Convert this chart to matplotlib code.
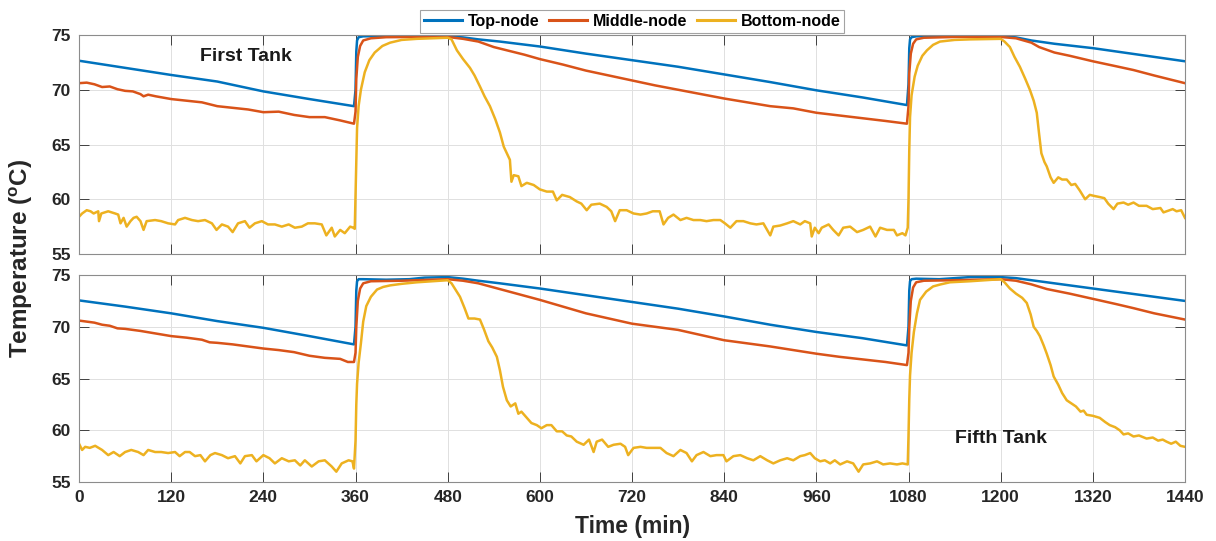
import matplotlib
matplotlib.use("Agg")
import matplotlib.pyplot as plt

plt.rcParams['font.family'] = ['Liberation Sans', 'DejaVu Sans']
plt.rcParams['font.weight'] = 'bold'
plt.rcParams['mathtext.fontset'] = 'custom'
plt.rcParams['mathtext.rm'] = 'Liberation Sans:bold'
plt.rcParams['mathtext.bf'] = 'Liberation Sans:bold'
plt.rcParams['mathtext.it'] = 'Liberation Sans:bold'

# ---------------- data ----------------
series_names = ['Top-node', 'Middle-node', 'Bottom-node']
colors = ['#0072BD', '#D95319', '#EDB120']
x_ticks = [0, 120, 240, 360, 480, 600, 720, 840, 960, 1080, 1200, 1320, 1440]
y_ticks = [55, 60, 65, 70, 75]

# First tank
top1_t = [0, 60, 120, 180, 240, 300, 358, 360, 361, 362, 364, 370, 400, 440, 480, 500, 520, 548, 600, 660,
          720, 780, 840, 900, 960, 1020, 1078, 1080, 1081, 1082, 1084, 1090, 1120, 1160, 1200, 1220, 1240,
          1270, 1320, 1380, 1440]
top1_v = [72.65, 72.0, 71.35, 70.75, 69.85, 69.15, 68.5, 70.0, 73.5, 74.5, 74.8, 74.88, 74.9, 74.9, 74.88, 74.78,
          74.6, 74.4, 73.95, 73.3, 72.7, 72.1, 71.4, 70.7, 69.95, 69.3, 68.6, 70.5, 73.8, 74.6, 74.8, 74.88, 74.9,
          74.9, 74.9, 74.78, 74.5, 74.2, 73.8, 73.2, 72.6]

mid1_t = [0, 10, 20, 30, 40, 50, 60, 70, 80, 84, 90, 100, 120, 140, 160, 180, 200, 220, 240, 260, 280, 300,
          320, 340, 355, 358, 360, 361, 363, 366, 370, 380, 400, 440, 480, 500, 520, 540, 560, 580, 600, 630,
          660, 690, 720, 750, 780, 810, 840, 870, 900, 930, 960, 990, 1020, 1050, 1078, 1080, 1081, 1083,
          1086, 1090, 1100, 1140, 1200, 1220, 1240, 1250, 1270, 1290, 1320, 1350, 1373, 1400, 1420, 1440]
mid1_v = [70.6, 70.65, 70.5, 70.25, 70.3, 70.05, 69.9, 69.85, 69.6, 69.4, 69.55, 69.4, 69.15, 69.0, 68.85,
          68.5, 68.35, 68.2, 67.95, 68.0, 67.7, 67.5, 67.5, 67.2, 66.95, 66.9, 68.0, 71.0, 73.0, 74.0, 74.5,
          74.7, 74.8, 74.82, 74.82, 74.65, 74.4, 73.9, 73.55, 73.2, 72.8, 72.3, 71.75, 71.3, 70.85, 70.4, 70.0,
          69.6, 69.2, 68.85, 68.5, 68.3, 67.9, 67.65, 67.4, 67.15, 66.9, 68.5, 71.5, 73.3, 74.2, 74.6, 74.75,
          74.82, 74.82, 74.7, 74.3, 73.9, 73.4, 73.1, 72.6, 72.15, 71.8, 71.3, 70.95, 70.6]

bot1_t = [0, 4, 10, 15, 19, 25, 26, 29, 38, 47, 51, 54, 58, 62, 67, 71, 75, 80, 84, 88, 99, 107, 116, 125,
          129, 138, 147, 155, 164, 173, 179, 186, 194, 200, 207, 216, 222, 229, 238, 246, 255, 264, 273, 281,
          290, 298, 307, 316, 322, 329, 333, 340, 346, 353, 357, 359,
          360, 361, 362, 364, 367, 372, 378, 385, 395, 405, 420, 440, 460, 480,
          485, 492, 500, 509, 515, 522, 528, 535, 542, 548, 553, 557, 561, 563, 566, 572, 576, 583, 592, 600,
          609, 617, 622, 629, 639, 648, 654, 661, 667, 678, 687, 693, 698, 704, 713, 722, 731, 739, 747, 756,
          761, 767, 774, 783, 791, 800, 809, 817, 826, 835, 841, 848, 856, 865, 874, 882, 891, 900, 904, 913,
          922, 930, 939, 945, 952, 954, 958, 963, 967, 976, 982, 989, 995, 1004, 1013, 1021, 1030, 1037, 1043,
          1052, 1061, 1065, 1072, 1076, 1079,
          1080, 1081, 1082, 1084, 1088, 1092, 1098, 1104, 1112, 1121, 1140, 1160, 1200,
          1205, 1212, 1218, 1225, 1232, 1238, 1243, 1247, 1250, 1253, 1257, 1260, 1265, 1269, 1275, 1280,
          1286, 1292, 1297, 1303, 1310, 1316, 1322, 1329, 1335, 1340, 1347, 1352, 1360, 1366, 1373, 1380,
          1390, 1398, 1408, 1412, 1416, 1424, 1429, 1435, 1440]
bot1_v = [58.4, 58.7, 59.0, 58.9, 58.7, 58.9, 58.0, 58.7, 58.9, 58.7, 58.6, 57.8, 58.3, 57.5, 58.0, 58.3,
          58.4, 58.0, 57.2, 58.0, 58.1, 58.0, 57.8, 57.7, 58.1, 58.3, 58.1, 58.0, 58.1, 57.8, 57.2, 57.7, 57.5,
          57.0, 57.8, 58.0, 57.4, 57.8, 58.0, 57.7, 57.7, 57.5, 57.7, 57.4, 57.5, 57.8, 57.8, 57.7, 56.7, 57.4,
          56.6, 57.2, 56.9, 57.5, 57.4, 57.3,
          60.5, 64.0, 66.5, 68.5, 70.0, 71.6, 72.7, 73.4, 74.0, 74.3, 74.55, 74.65, 74.7, 74.75,
          74.6, 73.6, 72.8, 72.0, 71.3, 70.3, 69.4, 68.5, 67.3, 66.1, 64.8, 64.2, 63.6, 61.6, 62.2, 62.1, 61.2,
          61.5, 61.3, 60.9, 60.7, 60.7, 59.9, 60.4, 60.2, 59.8, 59.6, 59.0, 59.5, 59.6, 59.3, 58.9, 58.0, 59.0,
          59.0, 58.7, 58.6, 58.7, 58.9, 58.9, 57.7, 58.3, 58.6, 58.1, 58.3, 58.1, 58.1, 58.0, 58.1, 58.1, 57.8,
          57.4, 58.0, 58.0, 57.8, 57.7, 57.8, 56.7, 57.5, 57.6, 57.8, 58.0, 57.7, 58.0, 57.8, 56.6, 57.4, 56.9,
          57.4, 57.7, 57.2, 56.7, 57.4, 57.5, 57.0, 57.2, 57.5, 56.6, 57.4, 57.2, 57.2, 56.7, 56.9, 56.7, 57.4,
          60.0, 64.5, 67.5, 69.5, 71.2, 72.2, 73.1, 73.6, 74.1, 74.4, 74.55, 74.6, 74.65,
          74.4, 73.9, 73.0, 72.1, 71.0, 70.0, 69.0, 67.9, 66.0, 64.2, 63.4, 63.0, 62.0, 61.5, 62.0, 61.8,
          61.8, 61.3, 61.4, 60.8, 60.0, 60.4, 60.3, 60.2, 60.1, 59.6, 59.1, 59.6, 59.7, 59.5, 59.7, 59.4,
          59.4, 59.1, 59.2, 58.8, 58.9, 59.1, 58.9, 59.0, 58.3]

# Fifth tank
top5_t = [0, 60, 120, 180, 240, 300, 358, 360, 361, 362, 364, 370, 400, 430, 450, 480, 500, 520, 548, 600,
          660, 720, 780, 840, 900, 960, 1020, 1078, 1080, 1081, 1082, 1084, 1090, 1120, 1140, 1160, 1200,
          1220, 1250, 1320, 1380, 1440]
top5_v = [72.55, 71.95, 71.3, 70.55, 69.9, 69.1, 68.3, 70.0, 73.5, 74.4, 74.6, 74.6, 74.55, 74.6, 74.75,
          74.8, 74.65, 74.45, 74.2, 73.7, 73.05, 72.4, 71.75, 71.0, 70.2, 69.5, 68.9, 68.2, 70.0, 73.5, 74.4,
          74.6, 74.65, 74.6, 74.7, 74.8, 74.8, 74.7, 74.4, 73.7, 73.1, 72.5]

mid5_t = [0, 10, 20, 30, 40, 50, 60, 80, 100, 120, 140, 160, 170, 180, 200, 220, 240, 260, 280, 300, 320,
          340, 350, 358, 360, 361, 363, 366, 370, 380, 420, 480, 500, 520, 540, 560, 580, 600, 630, 660, 690,
          720, 750, 780, 810, 840, 870, 900, 930, 960, 990, 1020, 1050, 1078, 1080, 1081, 1083, 1086, 1090,
          1100, 1140, 1200, 1220, 1240, 1260, 1290, 1320, 1350, 1373, 1400, 1420, 1440]
mid5_v = [70.6, 70.5, 70.4, 70.2, 70.1, 69.85, 69.8, 69.6, 69.35, 69.1, 68.95, 68.75, 68.5, 68.45, 68.3,
          68.1, 67.9, 67.75, 67.55, 67.2, 67.0, 66.9, 66.6, 66.6, 67.5, 70.0, 72.5, 73.7, 74.2, 74.4, 74.45,
          74.6, 74.45, 74.2, 73.8, 73.4, 73.0, 72.6, 71.95, 71.3, 70.8, 70.3, 70.0, 69.7, 69.2, 68.7, 68.4,
          68.1, 67.75, 67.4, 67.1, 66.85, 66.6, 66.3, 67.5, 70.0, 72.5, 73.8, 74.3, 74.45, 74.5, 74.6, 74.45,
          74.1, 73.65, 73.2, 72.7, 72.2, 71.8, 71.3, 71.0, 70.7]

bot5_t = [0, 4, 8, 14, 21, 30, 38, 45, 53, 60, 68, 77, 84, 90, 99, 107, 116, 125, 131, 138, 144, 151, 158,
          164, 171, 177, 186, 194, 203, 210, 216, 225, 231, 240, 248, 255, 264, 273, 281, 288, 294, 303, 312,
          320, 329, 335, 342, 351, 356, 358,
          360, 361, 362, 364, 367, 370, 374, 380, 388, 396, 405, 420, 440, 460, 480,
          485, 490, 496, 502, 507, 515, 522, 527, 533, 538, 544, 548, 552, 557, 562, 568, 572, 576, 583, 589,
          596, 602, 609, 615, 622, 629, 635, 641, 648, 657, 664, 670, 674, 681, 689, 696, 705, 711, 715, 722,
          731, 739, 748, 757, 765, 774, 783, 791, 798, 804, 813, 822, 830, 839, 843, 852, 861, 870, 878, 887,
          896, 904, 913, 922, 930, 939, 945, 952, 958, 965, 971, 978, 984, 991, 1000, 1008, 1015, 1021, 1030,
          1039, 1047, 1056, 1065, 1072, 1079,
          1080, 1081, 1082, 1084, 1087, 1091, 1095, 1103, 1112, 1122, 1134, 1160, 1200,
          1205, 1212, 1220, 1228, 1234, 1239, 1243, 1247, 1251, 1256, 1260, 1265, 1269, 1275, 1280, 1286,
          1292, 1298, 1304, 1308, 1312, 1320, 1329, 1336, 1342, 1349, 1355, 1360, 1366, 1373, 1380, 1390,
          1398, 1405, 1411, 1416, 1422, 1428, 1434, 1440]
bot5_v = [58.7, 58.1, 58.4, 58.3, 58.5, 58.1, 57.6, 57.9, 57.5, 57.9, 58.1, 57.9, 57.6, 58.1, 57.9, 57.9,
          57.8, 57.9, 57.5, 57.9, 57.9, 57.5, 57.6, 57.0, 57.6, 57.8, 57.6, 57.3, 57.5, 56.8, 57.5, 57.6, 57.0,
          57.6, 57.3, 56.8, 57.3, 57.0, 57.1, 56.6, 57.1, 56.5, 57.0, 57.1, 56.5, 56.0, 56.8, 57.1, 57.0, 56.3,
          59.0, 62.5, 64.5, 66.5, 68.4, 70.5, 72.0, 72.9, 73.6, 73.85, 74.0, 74.15, 74.3, 74.4, 74.5,
          74.2, 73.6, 72.9, 71.8, 70.8, 70.8, 70.7, 69.8, 68.6, 68.0, 67.1, 65.8, 64.2, 62.9, 62.3, 62.6, 61.6,
          61.8, 61.2, 60.7, 60.5, 60.2, 60.5, 60.5, 59.9, 59.9, 59.5, 59.4, 58.9, 58.6, 59.1, 57.9, 58.9, 59.1,
          58.4, 58.6, 58.7, 58.4, 57.6, 58.3, 58.4, 58.3, 58.3, 58.3, 57.8, 57.5, 58.1, 57.8, 57.0, 57.6, 57.9,
          57.5, 57.6, 57.6, 57.0, 57.5, 57.6, 57.3, 57.1, 57.5, 57.1, 56.8, 57.1, 57.3, 57.1, 57.5, 57.6, 57.8,
          57.3, 57.0, 57.1, 56.8, 57.1, 56.7, 57.0, 56.8, 56.0, 56.7, 56.8, 57.0, 56.7, 56.8, 56.7, 56.8, 56.7,
          59.5, 63.0, 65.3, 67.5, 69.5, 71.3, 72.6, 73.4, 73.9, 74.1, 74.3, 74.4, 74.6,
          74.3, 73.7, 73.2, 72.8, 72.3, 71.2, 70.0, 69.6, 69.1, 68.2, 67.4, 66.3, 65.2, 64.4, 63.6, 62.9,
          62.6, 62.3, 61.8, 61.9, 61.5, 61.4, 61.2, 60.8, 60.5, 60.3, 60.0, 59.6, 59.7, 59.4, 59.5, 59.2,
          59.3, 59.0, 59.1, 58.9, 58.7, 58.9, 58.5, 58.4]

panels = [
    ('First Tank', [(top1_t, top1_v), (mid1_t, mid1_v), (bot1_t, bot1_v)], (217, 73.0)),
    ('Fifth Tank', [(top5_t, top5_v), (mid5_t, mid5_v), (bot5_t, bot5_v)], (1200, 59.25)),
]

# ---------------- figure ----------------
fig = plt.figure(figsize=(12.16, 5.41), dpi=100)
ax_pos = [[0.065, 0.5305, 0.9095, 0.4048], [0.065, 0.109, 0.9095, 0.3826]]
axes = [fig.add_axes(p) for p in ax_pos]

frame_col = '#262626'
for i, (ax, (label, data, txt)) in enumerate(zip(axes, panels)):
    lines = []
    for (t, v), c, name in zip(data, colors, series_names):
        ln, = ax.plot(t, v, color=c, lw=1.8, label=name, solid_joinstyle='round')
        lines.append(ln)
    ax.set_xlim(0, 1440)
    ax.set_ylim(55, 75)
    ax.set_xticks(x_ticks)
    ax.set_yticks(y_ticks)
    ax.grid(True, color='#e0e0e0', lw=0.7)
    ax.set_axisbelow(True)
    ax.tick_params(direction='in', top=True, right=True, length=7, width=0.6,
                   color=frame_col, labelsize=12.5, pad=6, labelcolor='#262626')
    for lab in ax.get_xticklabels() + ax.get_yticklabels():
        lab.set_fontweight('bold')
    for s in ax.spines.values():
        s.set_color('#8c8c8c')
        s.set_linewidth(0.8)
    if i == 0:
        ax.tick_params(labelbottom=False)
    ax.text(txt[0], txt[1], label, ha='center', va='center', fontsize=14,
            fontweight='bold', color='#1a1a1a')
    if i == 0:
        leg = ax.legend(handles=lines, loc='lower center', bbox_to_anchor=(0.5, 0.995),
                        ncol=3, frameon=True, fancybox=False, fontsize=11.5,
                        handlelength=2.4, handletextpad=0.35, columnspacing=0.6,
                        borderpad=0.25, borderaxespad=0.2)
        leg.get_frame().set_edgecolor('#8c8c8c')
        leg.get_frame().set_linewidth(0.8)
        for txt_obj in leg.get_texts():
            txt_obj.set_fontweight('bold')
        for lh in leg.get_lines():
            lh.set_linewidth(2.2)

fig.text(0.018, 0.523, r'Temperature ($^{\mathbf{o}}$C)', rotation=90, ha='center', va='center',
         fontsize=17.5, fontweight='bold', color='#262626')
fig.text(0.52, 0.026, 'Time (min)', ha='center', va='center', fontsize=16.5,
         fontweight='bold', color='#262626')

fig.savefig('out.png', dpi=100)
